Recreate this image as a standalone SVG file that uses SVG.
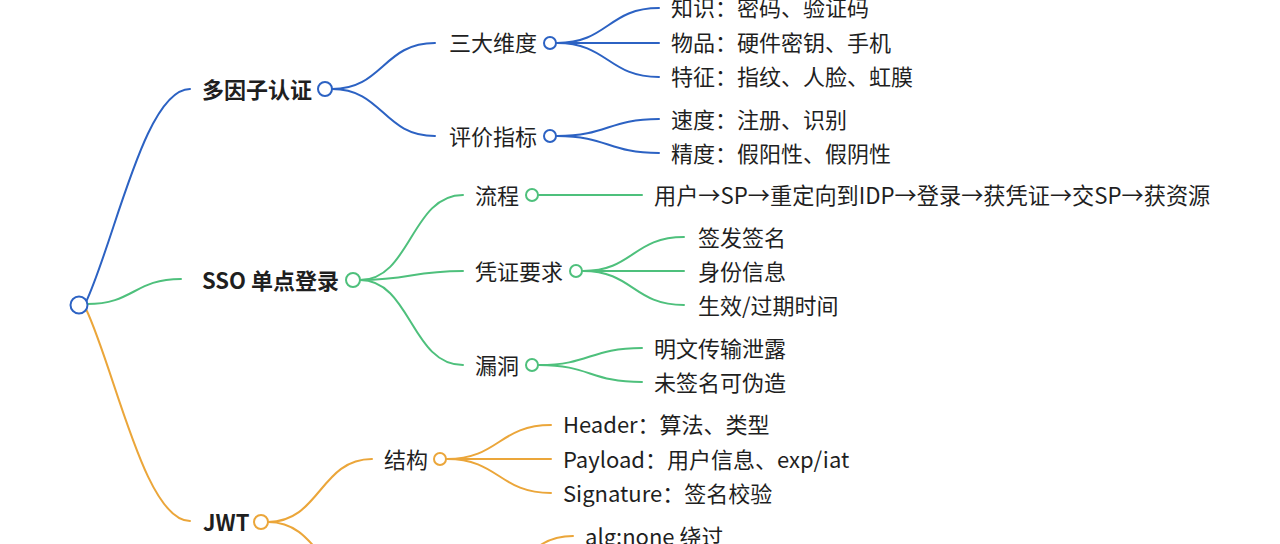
<svg xmlns="http://www.w3.org/2000/svg" width="1280" height="544" viewBox="0 0 1280 544">
<style>
text{font-family:"Noto Sans CJK SC","Noto Sans",sans-serif;font-size:22px;fill:#1f1f1f;dominant-baseline:central}
.l1{font-weight:bold}
.c{fill:none;stroke-width:2;stroke-linecap:round}
.b{stroke:#2c62c3}
.g{stroke:#4ec07c}
.o{stroke:#eba63a}
circle{fill:#fff;stroke-width:2}
</style>
<rect width="1280" height="544" fill="#fff"/>
<g id="connectors">
<path class="c b" d="M86,302 C115,240 145,89 190,89"/>
<path class="c g" d="M87,304 C134,304 134,279 181,279"/>
<path class="c o" d="M86,309 C115,370 145,521 190,521"/>
<path class="c b" d="M332,89 C383,89 383,43 435,43"/>
<path class="c b" d="M332,89 C383,89 383,136 435,136"/>
<path class="c b" d="M557,43 C608,43 608,8 659,8"/>
<path class="c b" d="M557,43 L659,43"/>
<path class="c b" d="M557,43 C608,43 608,77 659,77"/>
<path class="c b" d="M557,136 C608,136 608,119 659,119"/>
<path class="c b" d="M557,136 C608,136 608,153 659,153"/>
<path class="c g" d="M360,280 C411,280 411,195 463,195"/>
<path class="c g" d="M360,280 C411,280 411,271 463,271"/>
<path class="c g" d="M360,280 C411,280 411,365 463,365"/>
<path class="c g" d="M539,195 L642,195"/>
<path class="c g" d="M583,271 C633,271 633,237 684,237"/>
<path class="c g" d="M583,271 L684,271"/>
<path class="c g" d="M583,271 C633,271 633,305 684,305"/>
<path class="c g" d="M539,365 C590,365 590,348 642,348"/>
<path class="c g" d="M539,365 C590,365 590,382 642,382"/>
<path class="c o" d="M268,522 C320,522 320,459 372,459"/>
<path class="c o" d="M268,522 C320,522 320,585 372,585"/>
<path class="c o" d="M447,459 C499,459 499,425 551,425"/>
<path class="c o" d="M447,459 L551,459"/>
<path class="c o" d="M447,459 C499,459 499,493 551,493"/>
<path class="c o" d="M470,587 C521,587 521,536 573,536"/>
</g>
<g id="root"><circle class="b" cx="79" cy="305" r="8.5" stroke="#2c62c3" stroke-width="2.5"/></g>
<g id="n-mfa"><text class="l1" x="202" y="88">多因子认证</text><circle cx="325" cy="89" r="7" stroke="#2c62c3"/></g>
<g id="n-3d"><text x="449" y="41">三大维度</text><circle cx="550" cy="43" r="6" stroke="#2c62c3"/></g>
<g id="n-know"><text x="671" y="6">知识：密码、验证码</text></g>
<g id="n-item"><text x="671" y="41">物品：硬件密钥、手机</text></g>
<g id="n-feat"><text x="671" y="75">特征：指纹、人脸、虹膜</text></g>
<g id="n-eval"><text x="449" y="135">评价指标</text><circle cx="550" cy="136" r="6" stroke="#2c62c3"/></g>
<g id="n-speed"><text x="671" y="118">速度：注册、识别</text></g>
<g id="n-prec"><text x="671" y="152">精度：假阳性、假阴性</text></g>
<g id="n-sso"><text class="l1" x="202" y="279">SSO 单点登录</text><circle cx="353" cy="280" r="7" stroke="#4ec07c"/></g>
<g id="n-flow"><text x="475" y="194">流程</text><circle cx="532" cy="195" r="6" stroke="#4ec07c"/></g>
<g id="n-flowtxt"><text x="654" y="194" style="font-size:22.2px">用户→SP→重定向到IDP→登录→获凭证→交SP→获资源</text></g>
<g id="n-cred"><text x="475" y="270">凭证要求</text><circle cx="576" cy="271" r="6" stroke="#4ec07c"/></g>
<g id="n-sign"><text x="698" y="236">签发签名</text></g>
<g id="n-id"><text x="698" y="270">身份信息</text></g>
<g id="n-time"><text x="698" y="304">生效/过期时间</text></g>
<g id="n-vuln"><text x="475" y="364">漏洞</text><circle cx="532" cy="365" r="6" stroke="#4ec07c"/></g>
<g id="n-plain"><text x="654" y="347">明文传输泄露</text></g>
<g id="n-forge"><text x="654" y="381">未签名可伪造</text></g>
<g id="n-jwt"><text class="l1" x="203" y="521">JWT</text><circle cx="261" cy="522" r="7" stroke="#eba63a"/></g>
<g id="n-struct"><text x="384" y="458">结构</text><circle cx="440" cy="459" r="6" stroke="#eba63a"/></g>
<g id="n-header"><text x="563" y="423">Header：算法、类型</text></g>
<g id="n-payload"><text x="563" y="458">Payload：用户信息、exp/iat</text></g>
<g id="n-sig"><text x="563" y="492">Signature：签名校验</text></g>
<g id="n-alg"><text x="585" y="535">alg:none 绕过</text></g>
</svg>
